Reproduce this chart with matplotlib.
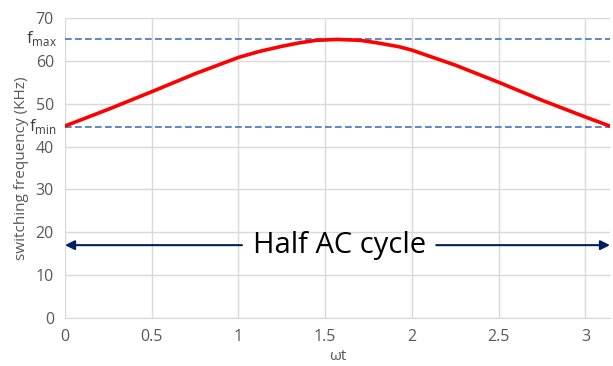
import numpy as np
import matplotlib.pyplot as plt

# values
wt = [0.0, 0.25, 0.5, 0.75, 1.0, 1.12, 1.25, 1.35, 1.45, 1.57, 1.7, 1.8,
      1.925, 2.0, 2.25, 2.5, 2.75, 3.0, 3.14]
fsw = [44.8, 48.7, 52.8, 57.0, 60.8, 62.2, 63.4, 64.2, 64.8, 65.0, 64.8, 64.2,
       63.3, 62.5, 59.0, 55.0, 50.8, 46.9, 44.8]
f_max = 65.0
f_min = 44.5
arrow_y = 17
x_ticks = [0, 0.5, 1, 1.5, 2, 2.5, 3]
y_ticks = [0, 10, 20, 30, 40, 50, 60, 70]

plt.rcParams['font.family'] = ['Open Sans', 'DejaVu Sans']
grey = '#595959'

fig = plt.figure(figsize=(6.13, 3.66), dpi=100)
ax = fig.add_axes([65 / 613, 1 - 318 / 366, 545 / 613, 300 / 366])

ax.plot(wt, fsw, color='red', lw=2.6, solid_capstyle='round',
        solid_joinstyle='round', zorder=4)
ax.axhline(f_max, color='#4472C4', lw=1.2, ls=(0, (4, 2)), zorder=3)
ax.axhline(f_min, color='#4472C4', lw=1.2, ls=(0, (4, 2)), zorder=3)

ax.set_xlim(0, np.pi)
ax.set_ylim(0, 70)
ax.set_xticks(x_ticks)
ax.set_xticklabels([f"{v:g}" for v in x_ticks])
ax.set_yticks(y_ticks)
ax.grid(True, color='#d9d9d9', lw=1)
ax.set_axisbelow(True)
for s in ['top', 'right', 'left']:
    ax.spines[s].set_visible(False)
ax.spines['bottom'].set_color('#d9d9d9')
ax.tick_params(length=0, colors=grey, labelsize=11.5, pad=8)
ax.set_xlabel('ωt', color=grey, fontsize=11, labelpad=3)
ax.set_ylabel('switching frequency (KHz)', color=grey, fontsize=11, labelpad=5)

ax.text(-0.015, f_max + 0.3, r'f$_\mathregular{max}$', color='#404040', fontsize=12,
        ha='right', va='center', transform=ax.get_yaxis_transform())
ax.text(-0.015, f_min + 0.3, r'f$_\mathregular{min}$', color='#404040', fontsize=12,
        ha='right', va='center', transform=ax.get_yaxis_transform())

navy = '#002060'
ax.text(1.58, arrow_y, 'Half AC cycle', fontsize=21, ha='center', va='center',
        color='black', zorder=5)
ax.annotate('', xy=(0, arrow_y), xytext=(1.02, arrow_y),
            arrowprops=dict(arrowstyle='-|>', color=navy, lw=1.5,
                            mutation_scale=14, shrinkA=0, shrinkB=0))
ax.annotate('', xy=(np.pi, arrow_y), xytext=(2.14, arrow_y),
            arrowprops=dict(arrowstyle='-|>', color=navy, lw=1.5,
                            mutation_scale=14, shrinkA=0, shrinkB=0))

fig.savefig('out.png', dpi=100)
